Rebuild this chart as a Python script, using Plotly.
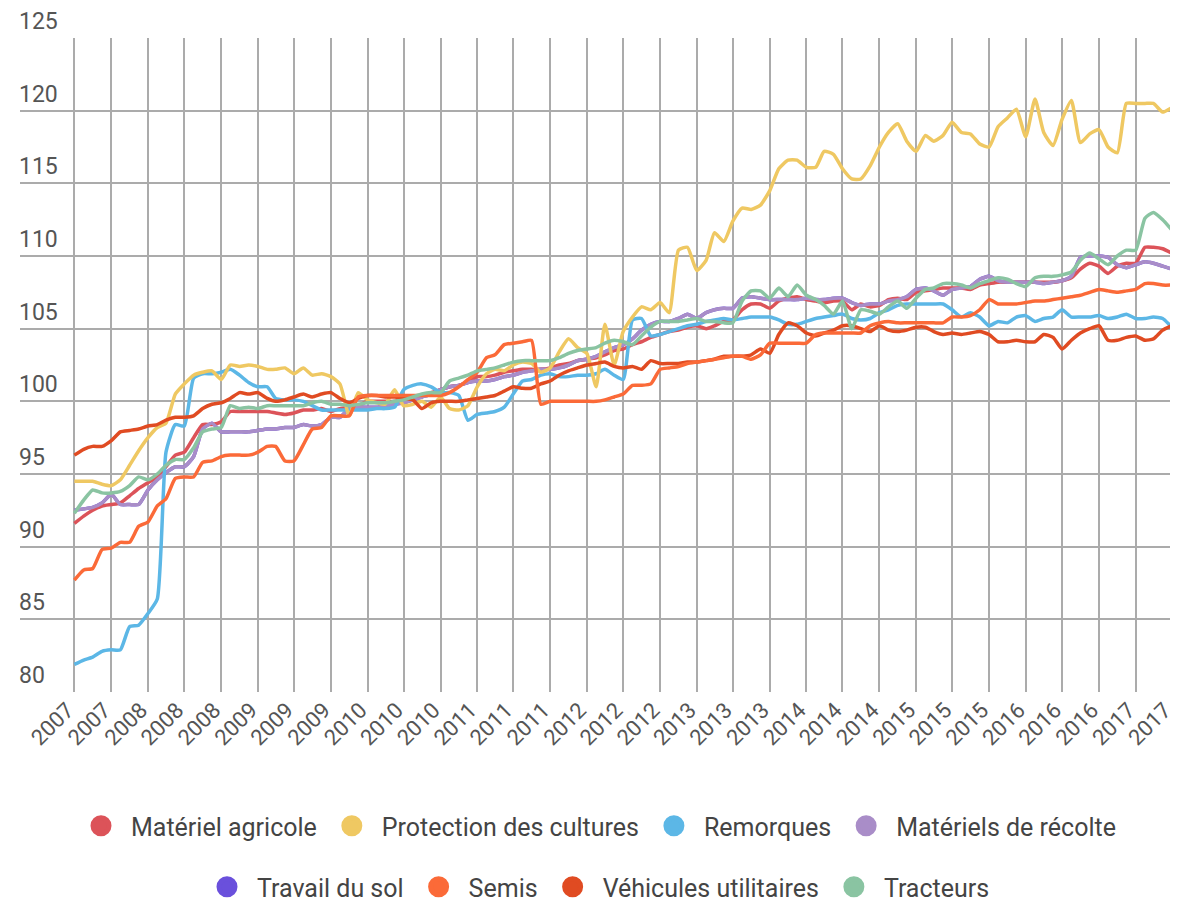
import pandas as pd
import plotly.graph_objects as go

months = pd.date_range("2007-05-01", periods=121, freq="MS")

tick_labels = ["2007", "2007", "2008", "2008", "2008", "2009", "2009", "2009",
               "2010", "2010", "2010", "2011", "2011", "2011", "2012", "2012",
               "2012", "2013", "2013", "2013", "2014", "2014", "2014", "2015",
               "2015", "2015", "2016", "2016", "2016", "2017", "2017"]

materiel_agricole = [
    91.6, 92.1, 92.5, 92.8, 92.9, 93.0, 93.5, 94.0, 94.4, 94.8,
    95.5, 96.3, 96.5, 97.5, 98.4, 98.4, 98.6, 99.3, 99.3, 99.3,
    99.3, 99.3, 99.2, 99.1, 99.2, 99.4, 99.4, 99.5, 99.3, 99.5,
    99.6, 99.7, 100.0, 100.0, 100.0, 100.0, 100.2, 100.3, 100.4, 100.6,
    100.8, 101.0, 101.1, 101.3, 101.7, 101.7, 101.8, 102.0, 102.1, 102.2,
    102.2, 102.2, 102.3, 102.5, 102.6, 102.8, 102.9, 103.0, 103.2, 103.5,
    103.6, 103.9, 104.1, 104.4, 104.6, 104.8, 104.9, 105.1, 105.2, 105.0,
    105.2, 105.5, 105.6, 106.3, 106.7, 106.7, 106.4, 106.9, 107.1, 107.2,
    107.0, 106.9, 106.8, 106.9, 106.9, 106.3, 106.7, 106.5, 106.6, 107.0,
    107.1, 107.0, 107.5, 107.6, 107.7, 107.8, 107.8, 107.8, 107.7, 108.0,
    108.1, 108.2, 108.2, 108.2, 108.2, 108.2, 108.2, 108.2, 108.3, 108.5,
    109.1, 109.5, 109.3, 108.8, 109.3, 109.5, 109.5, 110.6, 110.6, 110.5,
    110.2]

protection_cultures = [
    94.5, 94.5, 94.5, 94.3, 94.2, 94.6, 95.6, 96.6, 97.5, 98.2,
    98.5, 100.5, 101.2, 101.8, 102.0, 102.1, 101.5, 102.5, 102.4, 102.5,
    102.4, 102.2, 102.2, 102.3, 101.9, 102.3, 101.8, 101.9, 101.7, 101.2,
    99.0, 100.6, 100.1, 99.9, 99.8, 100.8, 99.7, 99.8, 100.0, 99.6,
    100.3, 99.5, 99.4, 99.7, 101.0, 101.9, 102.2, 102.1, 102.5, 102.7,
    102.6, 102.0, 102.3, 103.4, 104.3, 103.7, 103.3, 101.0, 105.3, 102.5,
    104.8, 105.8, 106.5, 106.3, 106.8, 106.1, 110.4, 110.6, 109.0, 109.7,
    111.6, 111.0, 112.4, 113.3, 113.2, 113.5, 114.5, 116.0, 116.6, 116.6,
    116.1, 116.1, 117.2, 117.0, 116.0, 115.3, 115.3, 116.2, 117.5, 118.5,
    119.1, 117.9, 117.2, 118.3, 117.9, 118.3, 119.2, 118.5, 118.4, 117.7,
    117.5, 118.9, 119.5, 120.1, 118.2, 120.8, 118.5, 117.6, 119.4, 120.7,
    117.8, 118.4, 118.7, 117.5, 117.1, 120.5, 120.5, 120.5, 120.5, 119.9,
    120.2]

remorques = [
    81.9, 82.2, 82.4, 82.8, 82.9, 82.9, 84.5, 84.6, 85.4, 86.4,
    96.5, 98.4, 98.3, 101.6, 101.9, 101.9, 102.0, 102.2, 101.8, 101.3,
    101.0, 101.0, 100.2, 100.1, 100.1, 100.0, 99.7, 99.4, 99.4, 99.4,
    99.4, 99.4, 99.4, 99.5, 99.5, 99.6, 100.8, 101.1, 101.2, 101.0,
    100.6, 100.6, 100.4, 98.7, 99.1, 99.2, 99.3, 99.6, 100.5, 101.4,
    101.5, 101.8, 101.9, 101.7, 101.7, 101.8, 101.8, 101.9, 102.2, 101.8,
    101.5, 105.6, 105.7, 104.5, 104.6, 104.8, 105.0, 105.2, 105.3, 105.5,
    105.6, 105.7, 105.6, 105.7, 105.8, 105.8, 105.8, 105.6, 105.3, 105.3,
    105.5, 105.7, 105.8, 105.9, 106.0, 105.7, 105.6, 105.7, 106.1, 106.3,
    106.6, 106.7, 106.7, 106.7, 106.7, 106.7, 106.3, 105.8, 106.1, 105.8,
    105.2, 105.5, 105.4, 105.8, 105.9, 105.5, 105.7, 105.8, 106.3, 105.8,
    105.8, 105.8, 105.9, 105.7, 105.8, 106.0, 105.7, 105.7, 105.8, 105.7,
    105.1]

materiels_recolte = [
    92.5, 92.6, 92.7, 93.0, 93.6, 92.9, 92.9, 92.9, 93.9, 94.6,
    95.1, 95.5, 95.5, 96.2, 98.1, 98.5, 97.9, 97.9, 97.9, 97.9,
    98.0, 98.1, 98.1, 98.2, 98.2, 98.4, 98.3, 98.4, 98.9, 98.9,
    99.5, 99.6, 99.6, 99.6, 99.7, 99.8, 99.9, 100.1, 100.3, 100.5,
    100.8, 101.0, 101.1, 101.3, 101.4, 101.4, 101.5, 101.7, 101.8, 102.0,
    102.1, 102.2, 102.2, 102.3, 102.5, 102.8, 102.9, 103.1, 103.4, 103.7,
    103.9, 104.3, 104.9, 105.3, 105.5, 105.5, 105.7, 106.0, 105.7, 106.1,
    106.3, 106.4, 106.4, 107.1, 107.2, 107.1, 107.0, 107.0, 107.0, 107.0,
    107.1, 107.0, 107.0, 107.1, 107.1, 106.8, 106.6, 106.7, 106.7, 106.9,
    107.0, 107.2, 107.7, 107.8, 107.6, 107.3, 107.7, 107.8, 107.9, 108.4,
    108.6, 108.3, 108.2, 108.2, 108.2, 108.2, 108.1, 108.2, 108.3, 108.6,
    109.9, 110.0, 110.0, 109.9, 109.4, 109.2, 109.4, 109.6, 109.5, 109.3,
    109.1]

travail_du_sol = [
    92.5, 92.6, 92.7, 93.0, 93.6, 92.9, 92.9, 92.9, 93.9, 94.6,
    95.1, 95.5, 95.5, 96.2, 98.1, 98.5, 97.9, 97.9, 97.9, 97.9,
    98.0, 98.1, 98.1, 98.2, 98.2, 98.4, 98.3, 98.4, 98.9, 98.9,
    99.5, 99.6, 99.6, 99.6, 99.7, 99.8, 99.9, 100.1, 100.3, 100.5,
    100.8, 101.0, 101.1, 101.3, 101.4, 101.4, 101.5, 101.7, 101.8, 102.0,
    102.1, 102.2, 102.2, 102.3, 102.5, 102.8, 102.9, 103.1, 103.4, 103.7,
    103.9, 104.3, 104.9, 105.3, 105.5, 105.5, 105.7, 106.0, 105.7, 106.1,
    106.3, 106.4, 106.4, 107.1, 107.2, 107.1, 107.0, 107.0, 107.0, 107.0,
    107.1, 107.0, 107.0, 107.1, 107.1, 106.8, 106.6, 106.7, 106.7, 106.9,
    107.0, 107.2, 107.7, 107.8, 107.6, 107.3, 107.7, 107.8, 107.9, 108.4,
    108.6, 108.3, 108.2, 108.2, 108.2, 108.2, 108.1, 108.2, 108.3, 108.6,
    109.9, 110.0, 110.0, 109.9, 109.4, 109.2, 109.4, 109.6, 109.5, 109.3,
    109.1]

semis = [
    87.7, 88.4, 88.5, 89.8, 89.9, 90.3, 90.3, 91.4, 91.7, 92.8,
    93.3, 94.7, 94.8, 94.8, 95.8, 95.9, 96.2, 96.3, 96.3, 96.3,
    96.5, 96.9, 96.9, 95.9, 95.9, 97.0, 98.1, 98.2, 99.0, 99.0,
    99.0, 100.3, 100.4, 100.4, 100.4, 100.4, 100.4, 100.4, 100.4, 100.4,
    100.4, 100.6, 101.0, 101.5, 102.0, 103.0, 103.2, 103.9, 104.0, 104.1,
    104.2, 99.8, 100.0, 100.0, 100.0, 100.0, 100.0, 100.0, 100.1, 100.3,
    100.5, 101.1, 101.1, 101.2, 102.2, 102.3, 102.4, 102.6, 102.7, 102.8,
    102.9, 103.0, 103.1, 103.1, 102.9, 103.2, 104.0, 104.0, 104.0, 104.0,
    104.0, 104.6, 104.7, 104.7, 104.7, 104.7, 104.7, 105.2, 105.4, 105.5,
    105.4, 105.4, 105.4, 105.4, 105.4, 105.4, 105.8, 105.8, 105.9, 106.3,
    107.0, 106.7, 106.7, 106.7, 106.8, 106.9, 106.9, 107.0, 107.1, 107.2,
    107.3, 107.5, 107.7, 107.6, 107.5, 107.6, 107.7, 108.1, 108.1, 108.0,
    108.0]

vehicules_utilitaires = [
    96.3, 96.7, 96.9, 96.9, 97.3, 97.9, 98.0, 98.1, 98.3, 98.4,
    98.7, 98.9, 98.9, 99.0, 99.5, 99.8, 99.9, 100.2, 100.6, 100.5,
    100.6, 100.2, 100.0, 100.1, 100.3, 100.5, 100.3, 100.5, 100.6, 100.2,
    99.9, 100.2, 100.4, 100.4, 100.3, 100.3, 100.2, 100.1, 99.5, 99.9,
    100.0, 100.0, 100.0, 100.1, 100.2, 100.3, 100.4, 100.7, 101.0, 100.9,
    100.9, 101.2, 101.4, 101.8, 102.1, 102.3, 102.5, 102.6, 102.7, 102.4,
    102.3, 102.4, 102.2, 102.8, 102.6, 102.6, 102.6, 102.7, 102.7, 102.8,
    102.9, 103.1, 103.1, 103.1, 103.2, 103.6, 103.3, 104.6, 105.4, 105.2,
    104.7, 104.5, 104.7, 104.9, 105.2, 105.2, 105.0, 104.8, 105.2, 104.9,
    104.8, 104.9, 105.1, 105.1, 104.8, 104.6, 104.7, 104.6, 104.7, 104.8,
    104.6, 104.1, 104.1, 104.2, 104.1, 104.1, 104.6, 104.4, 103.6, 104.2,
    104.7, 105.0, 105.2, 104.2, 104.2, 104.4, 104.5, 104.2, 104.3, 104.9,
    105.2]

tracteurs = [
    92.3, 93.2, 93.9, 93.7, 93.7, 93.8, 94.2, 94.8, 94.6, 95.0,
    95.6, 96.0, 96.0, 96.8, 97.9, 98.1, 98.2, 99.7, 99.5, 99.6,
    99.5, 99.7, 99.7, 99.7, 99.7, 99.7, 99.9, 100.0, 99.8, 99.8,
    99.7, 99.8, 99.9, 99.9, 99.9, 100.0, 100.1, 100.3, 100.5, 100.6,
    100.6, 101.4, 101.6, 101.8, 102.1, 102.2, 102.3, 102.5, 102.7, 102.8,
    102.8, 102.8, 102.8, 103.0, 103.3, 103.5, 103.6, 103.7, 104.0, 104.2,
    104.1, 103.9, 104.5, 105.1, 105.5, 105.5, 105.5, 105.6, 105.7, 105.5,
    105.5, 105.4, 105.4, 106.9, 107.6, 107.6, 107.1, 107.8, 107.2, 108.0,
    107.3, 107.0, 106.6, 106.0, 106.9, 105.0, 106.3, 106.2, 106.0, 106.5,
    106.9, 106.4, 107.1, 107.7, 107.8, 108.1, 108.1, 108.0, 107.8, 108.1,
    108.3, 108.5, 108.4, 108.1, 107.9, 108.5, 108.6, 108.6, 108.7, 108.9,
    109.7, 110.2, 109.8, 109.4, 110.0, 110.4, 110.4, 112.6, 113.0, 112.5,
    111.8]

series_names = ["Matériel agricole", "Protection des cultures", "Remorques",
                "Matériels de récolte", "Travail du sol", "Semis",
                "Véhicules utilitaires", "Tracteurs"]
series_values = [materiel_agricole, protection_cultures, remorques,
                 materiels_recolte, travail_du_sol, semis,
                 vehicules_utilitaires, tracteurs]
series_colors = ["#dc5359", "#efc862", "#5cb7e6", "#a98dc8",
                 "#6a50dc", "#fb6a38", "#e04b22", "#8ac4a2"]

draw_order = [4, 0, 3, 2, 1, 6, 5, 7]

fig = go.Figure()

for k in draw_order:
    fig.add_trace(go.Scatter(
        x=months, y=series_values[k], mode="lines",
        line=dict(color=series_colors[k], width=3.5, shape="spline", smoothing=0.5),
        name=series_names[k], showlegend=False, hoverinfo="x+y+name"))

for k in range(8):
    fig.add_trace(go.Scatter(
        x=[None], y=[None], mode="markers",
        marker=dict(color=series_colors[k], size=16,
                    line=dict(color=series_colors[k], width=5)),
        name=series_names[k], showlegend=True,
        legend="legend" if k < 4 else "legend2"))

font_family = "Roboto, 'Open Sans', sans-serif"

fig.update_layout(
    width=1178, height=901,
    margin=dict(l=12, r=14, t=30, b=217, autoexpand=False),
    paper_bgcolor="white", plot_bgcolor="white",
    font=dict(family=font_family, color="#4a4a4a"),
    xaxis=dict(
        range=[pd.Timestamp("2006-11-01"), pd.Timestamp("2017-05-02")],
        tickmode="array", tickvals=list(months[::4]), ticktext=tick_labels,
        tickangle=-45, tickfont=dict(size=22, color="#555555"),
        ticklabelshift=-7,
        showgrid=True, gridcolor="#ababab", gridwidth=2,
        zeroline=False, showline=False, ticks="", automargin=False),
    yaxis=dict(
        range=[80, 125], dtick=5, tick0=80,
        ticklabelposition="inside top", ticklabeloverflow="allow",
        ticklabelstandoff=-4, ticklabelshift=-1,
        tickfont=dict(size=23, color="#555555"),
        showgrid=True, gridcolor="#ababab", gridwidth=2,
        zeroline=False, showline=False, ticks="", automargin=False),
    legend=dict(orientation="h", x=0.5, xanchor="center",
                yref="container", y=(901 - 818) / 901, yanchor="middle",
                font=dict(size=25, color="#444444"), itemwidth=50,
                bgcolor="rgba(0,0,0,0)"),
    legend2=dict(orientation="h", x=0.5, xanchor="center",
                 yref="container", y=(901 - 879) / 901, yanchor="middle",
                 font=dict(size=25, color="#444444"), itemwidth=50,
                 bgcolor="rgba(0,0,0,0)"),
)

fig.write_html("out.html")
